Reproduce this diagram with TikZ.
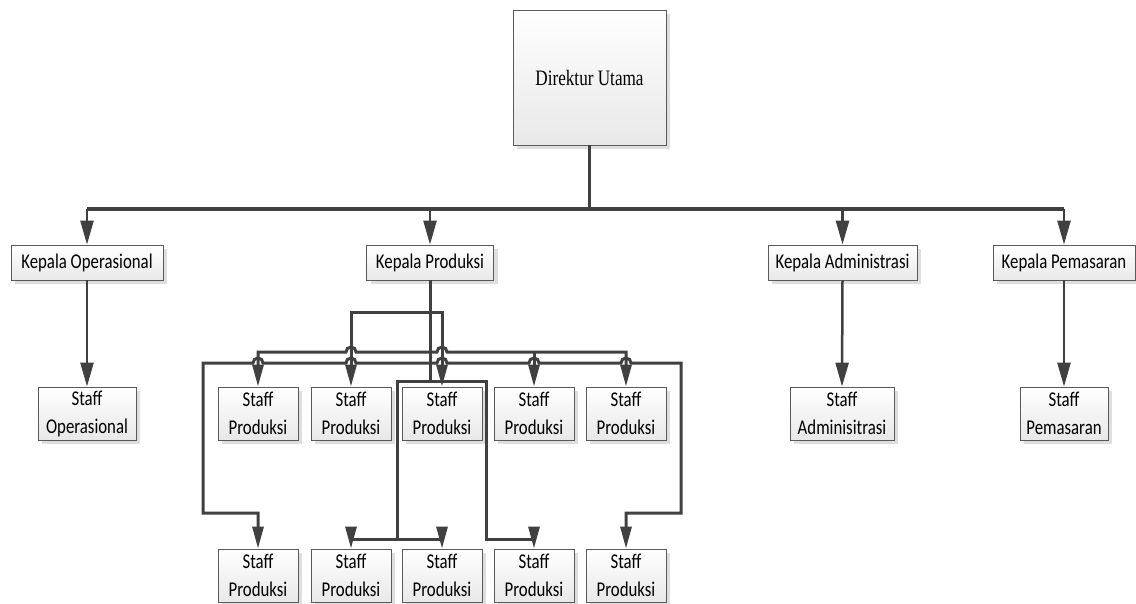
\documentclass[tikz,border=0pt]{standalone}
\usepackage{fontspec}
\usetikzlibrary{arrows.meta,shadows}
\newfontfamily\condsans[FakeStretch=0.8]{Carlito}
\newfontfamily\condserif[FakeStretch=0.78]{Liberation Serif}
\definecolor{lc}{HTML}{404040}
\definecolor{bc}{HTML}{5A5A5A}
\begin{document}
\begin{tikzpicture}[x=1pt,y=-1pt,
  box/.style={draw=bc, line width=0.8pt, top color=white, bottom color=black!9,
    drop shadow={shadow xshift=4pt, shadow yshift=-4pt, fill=black!13, opacity=1},
    inner sep=0pt, align=center, font=\condsans\fontsize{21}{28}\selectfont},
  kbox/.style={box, minimum height=35pt},
  sbox/.style={box, minimum height=53pt},
  conn/.style={draw=lc, line width=3pt, line join=miter},
  tip/.style={-{Triangle[length=22pt,width=11pt]}},
  bigtip/.style={-{Triangle[length=24pt,width=13pt]}},
  tips/.style={{Triangle[length=22pt,width=11pt]}-{Triangle[length=22pt,width=11pt]}},
]
\useasboundingbox (0,0) rectangle (1136,604);

% boxes
\node[box, minimum width=153pt, minimum height=135pt,
  font=\condserif\fontsize{22}{26}\selectfont] (dir) at (589.5,77.5) {Direktur Utama};
\node[kbox, minimum width=152pt] (kop)   at (87,262.5)    {Kepala Operasional};
\node[kbox, minimum width=127pt] (kprod) at (430,262.5)   {Kepala Produksi};
\node[kbox, minimum width=149pt] (kadm)  at (842.5,262.5) {Kepala Administrasi};
\node[kbox, minimum width=142pt] (kpem)  at (1064,262.5)  {Kepala Pemasaran};

\node[sbox, minimum width=98pt]  (sop)  at (87,413.5)   {Staff\\Operasional};
\node[sbox, minimum width=104pt] (sadm) at (842,413.5)  {Staff\\Adminisitrasi};
\node[sbox, minimum width=88pt]  (spem) at (1064,413.5) {Staff\\Pemasaran};

\foreach \i/\x in {1/258,2/351,3/442,4/534,5/626}{
  \node[sbox, minimum width=80pt] (ra\i) at (\x,413.5) {Staff\\Produksi};
  \node[sbox, minimum width=80pt] (rb\i) at (\x,575.5) {Staff\\Produksi};
}

% levels
\coordinate (bus) at (0,209);
\coordinate (lp)  at (0,313);
\coordinate (b1)  at (0,352);
\coordinate (b2)  at (0,363);
\coordinate (hb)  at (0,381);
\coordinate (ob)  at (0,513);
\coordinate (lb)  at (0,539);

% top level
\draw[conn, line width=2.5pt] (dir.south) -- (dir.south |- bus);
\draw[conn, line width=3.5pt] (kop.north |- bus) -- (kpem.north |- bus);
\foreach \n in {kop,kprod,kadm,kpem}
  \draw[conn, bigtip, line width=2.5pt] (\n.north |- bus) -- (\n.north);

% simple branches
\draw[conn, bigtip, line width=2.5pt] (kop.south) -- (sop.north);
\draw[conn, bigtip, line width=2.5pt] (kadm.south) -- (sadm.north);
\draw[conn, bigtip, line width=2.5pt] (kpem.south) -- (spem.north);

% production: upper loop
\draw[conn, tips] (ra2.north) -- (ra2.north |- lp) -- (ra3.north |- lp) -- (ra3.north);

% bus 1 with hops
\draw[conn, tips] (ra1.north) -- (ra1.north |- b1)
  -- (346,352) arc[start angle=180, end angle=0, radius=5pt]
  -- (437,352) arc[start angle=180, end angle=0, radius=5pt]
  -- (ra5.north |- b1) -- (ra5.north);
\draw[conn, tip] (ra4.north |- b1) -- (ra4.north);

% bus 2 with hops
\draw[conn, tips] (rb1.north) -- (rb1.north |- ob) -- (203,513) -- (203,363)
  -- (253,363) arc[start angle=180, end angle=0, radius=5pt]
  -- (346,363) arc[start angle=180, end angle=0, radius=5pt]
  -- (437,363) arc[start angle=180, end angle=0, radius=5pt]
  -- (529,363) arc[start angle=180, end angle=0, radius=5pt]
  -- (621,363) arc[start angle=180, end angle=0, radius=5pt]
  -- (681,363) -- (681,513) -- (rb5.north |- ob) -- (rb5.north);

% Kepala Produksi main connector
\draw[conn] (kprod.south) -- (kprod.south |- hb);
\draw[conn, tips] (rb2.north) -- (rb2.north |- lb) -- (397,539) -- (397,381)
  -- (486,381) -- (486,539) -- (rb4.north |- lb) -- (rb4.north);
\draw[conn, tip] (397,539) -- (rb3.north |- lb) -- (rb3.north);
\end{tikzpicture}
\end{document}
